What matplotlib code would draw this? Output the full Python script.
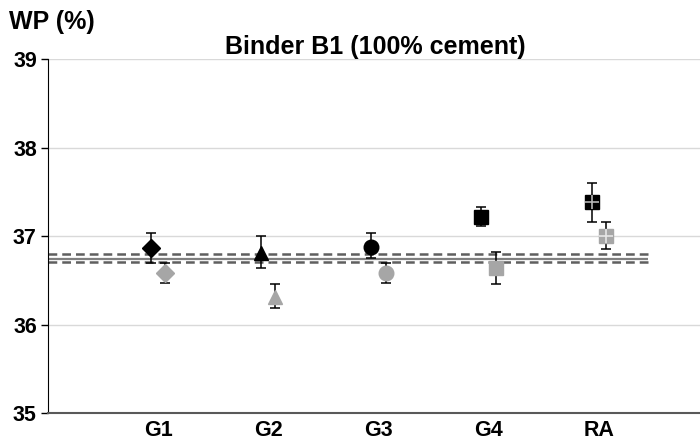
import numpy as np
import matplotlib.pyplot as plt

plt.rcParams['font.family'] = ['Liberation Sans', 'DejaVu Sans']

groups = ['G1', 'G2', 'G3', 'G4', 'RA']
markers = ['D', '^', 'o', 's', 's']

# mean WP and error bar limits, two mixes per aggregate
wp_dark = [36.87, 36.81, 36.88, 37.22, 37.38]
err_lo_dark = [36.70, 36.64, 36.75, 37.11, 37.16]
err_hi_dark = [37.03, 37.00, 37.03, 37.33, 37.60]

wp_light = [36.58, 36.31, 36.58, 36.64, 37.00]
err_lo_light = [36.47, 36.19, 36.47, 36.46, 36.85]
err_hi_light = [36.70, 36.46, 36.69, 36.82, 37.16]

ref_mean = 36.745
ref_band = [36.795, 36.705]

fig = plt.figure(figsize=(7, 4.41), dpi=100)
ax = fig.add_axes([0.0686, 0.0635, 0.9314, 0.8025])

x = np.arange(1, len(groups) + 1)
off = 0.065
dark = '#000000'
light = '#a6a6a6'

ax.hlines(ref_mean, 0, 5.45, color='#7f7f7f', lw=1.6, zorder=2)
for v in ref_band:
    ax.hlines(v, 0, 5.45, color='#5f5f5f', lw=1.8, linestyles=(0, (3.5, 2)), zorder=2)

sizes = {'D': 9.5, '^': 10, 'o': 10.5, 's': 10}
for i in range(len(groups)):
    for xs, y, lo, hi, col in [(x[i] - off, wp_dark[i], err_lo_dark[i], err_hi_dark[i], dark),
                               (x[i] + off, wp_light[i], err_lo_light[i], err_hi_light[i], light)]:
        ax.errorbar(xs, y, yerr=[[y - lo], [hi - y]], fmt='none', ecolor='black',
                    elinewidth=1.1, capsize=3.5, capthick=1.1, zorder=3)
        ax.plot(xs, y, marker=markers[i], ms=sizes[markers[i]], color=col,
                mec=col, ls='none', zorder=4)
        if groups[i] == 'RA':
            ax.plot(xs, y, marker='+', ms=9.5, mew=1.2, color='white', alpha=0.7, zorder=5)

ax.set_xlim(0, 5.92)
ax.set_ylim(35, 39)
ax.set_xticks(x)
ax.set_xticklabels(groups)
ax.set_yticks([35, 36, 37, 38, 39])
ax.grid(axis='y', color='#d9d9d9', lw=1)
ax.set_axisbelow(True)

for s in ['top', 'right']:
    ax.spines[s].set_visible(False)
ax.spines['left'].set_color('black')
ax.spines['bottom'].set_color('#595959')
ax.spines['bottom'].set_linewidth(1.5)
ax.tick_params(axis='x', length=0, pad=5)
ax.tick_params(axis='y', length=5, width=1, pad=3)
for lab in ax.get_xticklabels() + ax.get_yticklabels():
    lab.set_fontsize(15.5)
    lab.set_fontweight('bold')

fig.text(0.536, 0.893, 'Binder B1 (100% cement)', ha='center', va='center',
         fontsize=18, fontweight='bold')
fig.text(0.013, 0.95, 'WP (%)', ha='left', va='center', fontsize=18, fontweight='bold')

fig.savefig('out.png', dpi=100)
